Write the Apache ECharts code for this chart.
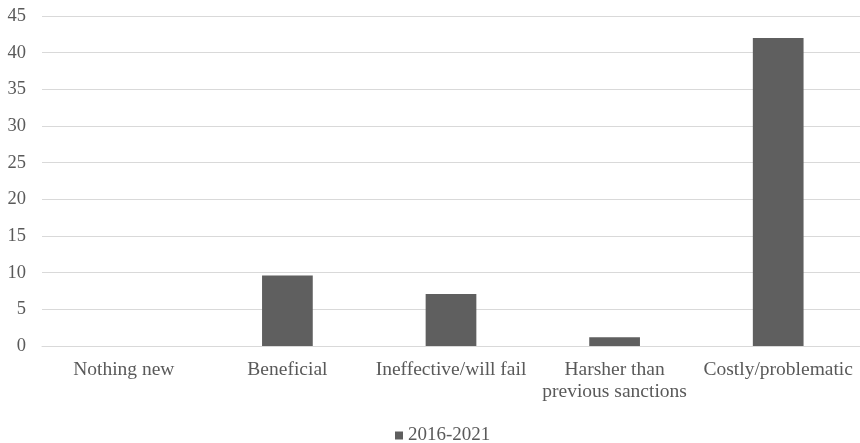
<!DOCTYPE html>
<html>
<head>
<meta charset="utf-8">
<script src="https://cdn.jsdelivr.net/npm/echarts@6/dist/echarts.min.js"></script>
<style>
html,body{margin:0;padding:0;background:#fff;}
#chart{width:860px;height:443px;}
</style>
</head>
<body>
<div id="chart"></div>
<script>
var categories = ['Nothing new', 'Beneficial', 'Ineffective/will fail', 'Harsher than\nprevious sanctions', 'Costly/problematic'];
var seriesName = '2016-2021';
var values = [0, 9.6, 7.1, 1.2, 42];
var yTicks = { min: 0, max: 45, interval: 5 };

var chart = echarts.init(document.getElementById('chart'));
var font = 'Liberation Serif, Times New Roman, serif';
chart.setOption({
  animation: false,
  backgroundColor: '#ffffff',
  grid: { left: 42, top: 16, width: 820, height: 330, containLabel: false },
  legend: {
    data: [seriesName],
    top: 421,
    left: 390,
    itemWidth: 8,
    itemHeight: 8,
    itemGap: 4,
    icon: 'rect',
    textStyle: { fontFamily: font, fontSize: 19, color: '#595959' }
  },
  xAxis: {
    type: 'category',
    data: categories,
    axisLine: { show: true, lineStyle: { color: '#d9d9d9', width: 1 } },
    axisTick: { show: false },
    axisLabel: {
      interval: 0,
      margin: 13,
      fontFamily: font,
      fontSize: 19.5,
      lineHeight: 22,
      color: '#595959'
    }
  },
  yAxis: {
    type: 'value',
    min: yTicks.min,
    max: yTicks.max,
    interval: yTicks.interval,
    axisLine: { show: false },
    axisTick: { show: false },
    splitLine: { lineStyle: { color: '#d9d9d9', width: 1 } },
    axisLabel: { margin: 16, fontFamily: font, fontSize: 18.5, color: '#595959' }
  },
  series: [{
    name: seriesName,
    type: 'bar',
    data: values,
    barWidth: '31%',
    itemStyle: { color: '#5f5f5f' }
  }]
});
</script>
</body>
</html>
